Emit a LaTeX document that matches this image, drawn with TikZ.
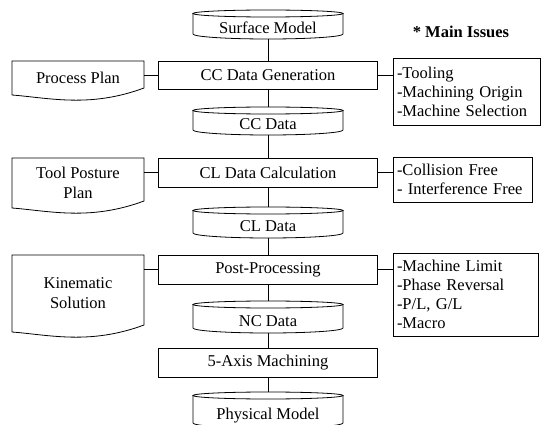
\documentclass[tikz,border=0pt]{standalone}
\usepackage{fontspec}
\setmainfont{Liberation Serif}
\newfontfamily\flowfont{Liberation Serif}
\usetikzlibrary{shapes,positioning,calc}

\begin{document}
\begin{tikzpicture}[x=1pt, y=1pt, line width=0.8pt,
  font=\flowfont\fontsize{16.5}{20}\selectfont,
  proc/.style={draw, rectangle, minimum width=219pt, inner sep=0pt, outer sep=0pt},
  data/.style={rectangle, minimum width=150pt, inner sep=0pt, outer sep=0pt, text height=22pt, text depth=4pt},
  plan/.style={rectangle, minimum width=132pt, inner sep=0pt, outer sep=0pt, align=center},
  issue/.style={draw, rectangle, inner xsep=4pt, inner ysep=0pt, outer sep=0pt, align=left, font=\flowfont\fontsize{16.5}{19}\selectfont}]
\useasboundingbox (0,0) rectangle (547,424);

% 主流程
\node[data, minimum height=29pt] (surf) at (268,399.5) {Surface Model};
\node[proc, minimum height=28pt] (gen) at (268,349) {CC Data Generation};
\node[data, minimum height=28pt] (ccdata) at (268,303) {CC Data};
\node[proc, minimum height=29pt] (calc) at (268,251.5) {CL Data Calculation};
\node[data, minimum height=31pt] (cldata) at (268,201.5) {CL Data};
\node[proc, minimum height=29pt] (post) at (268,154.5) {Post-Processing};
\node[data, minimum height=32pt] (ncdata) at (268,107) {NC Data};
\node[proc, minimum height=29pt] (mach) at (268,61.5) {5-Axis Machining};
\node[data, minimum height=36pt] (phys) at (268,14) {Physical Model};

% 左侧计划
\node[plan, minimum height=34pt] (pplan) at (78,346) {Process Plan};
\node[plan, minimum height=50pt] (tplan) at (78,241) {Tool Posture\\Plan};
\node[plan, minimum height=77pt] (kin) at (78,130.5) {Kinematic\\Solution};

% 右侧问题
\node[font=\flowfont\fontsize{16.5}{20}\selectfont\bfseries] (title) at (461,392) {* Main Issues};
\node[issue, text width=139pt, minimum height=67pt] (tooling) at (466.5,332.5) {-Tooling\\-Machining Origin\\-Machine Selection};
\node[issue, text width=131pt, minimum height=45pt] (collision) at (462.5,244.5) {-Collision Free\\- Interference Free};
\node[issue, text width=137pt, minimum height=83pt] (limit) at (465.5,129.5) {-Machine Limit\\-Phase Reversal\\-P/L, G/L\\-Macro};

% 数据桶外形
\foreach \c in {surf,ccdata,cldata,ncdata,phys} {
  \draw ([yshift=-3.5pt]\c.north) ellipse [x radius=75pt, y radius=3.5pt];
  \draw ([yshift=-3.5pt]\c.north west) -- ([yshift=5pt]\c.south west)
    arc [start angle=180, end angle=360, x radius=75pt, y radius=5pt]
    -- ([yshift=-3.5pt]\c.north east);
}

% 文档外形
\foreach \d in {pplan,tplan,kin} {
  \draw (\d.north west) -- (\d.north east) -- ([yshift=7pt]\d.south east)
    .. controls +(-54pt,-20pt) and +(38pt,-3pt) .. (\d.south west) -- cycle;
}

% 连线
\foreach \a/\b in {surf/gen, gen/ccdata, ccdata/calc, calc/cldata, cldata/post, post/ncdata, ncdata/mach, mach/phys}
  \draw (\a) -- (\b);
\draw (pplan.east |- gen) -- (gen);
\draw (tplan.east |- calc) -- (calc);
\draw (kin.east |- post) -- (post);
\draw (gen) -- (tooling.west |- gen);
\draw (calc) -- (collision.west |- calc);
\draw (post) -- (limit.west |- post);
\end{tikzpicture}
\end{document}
